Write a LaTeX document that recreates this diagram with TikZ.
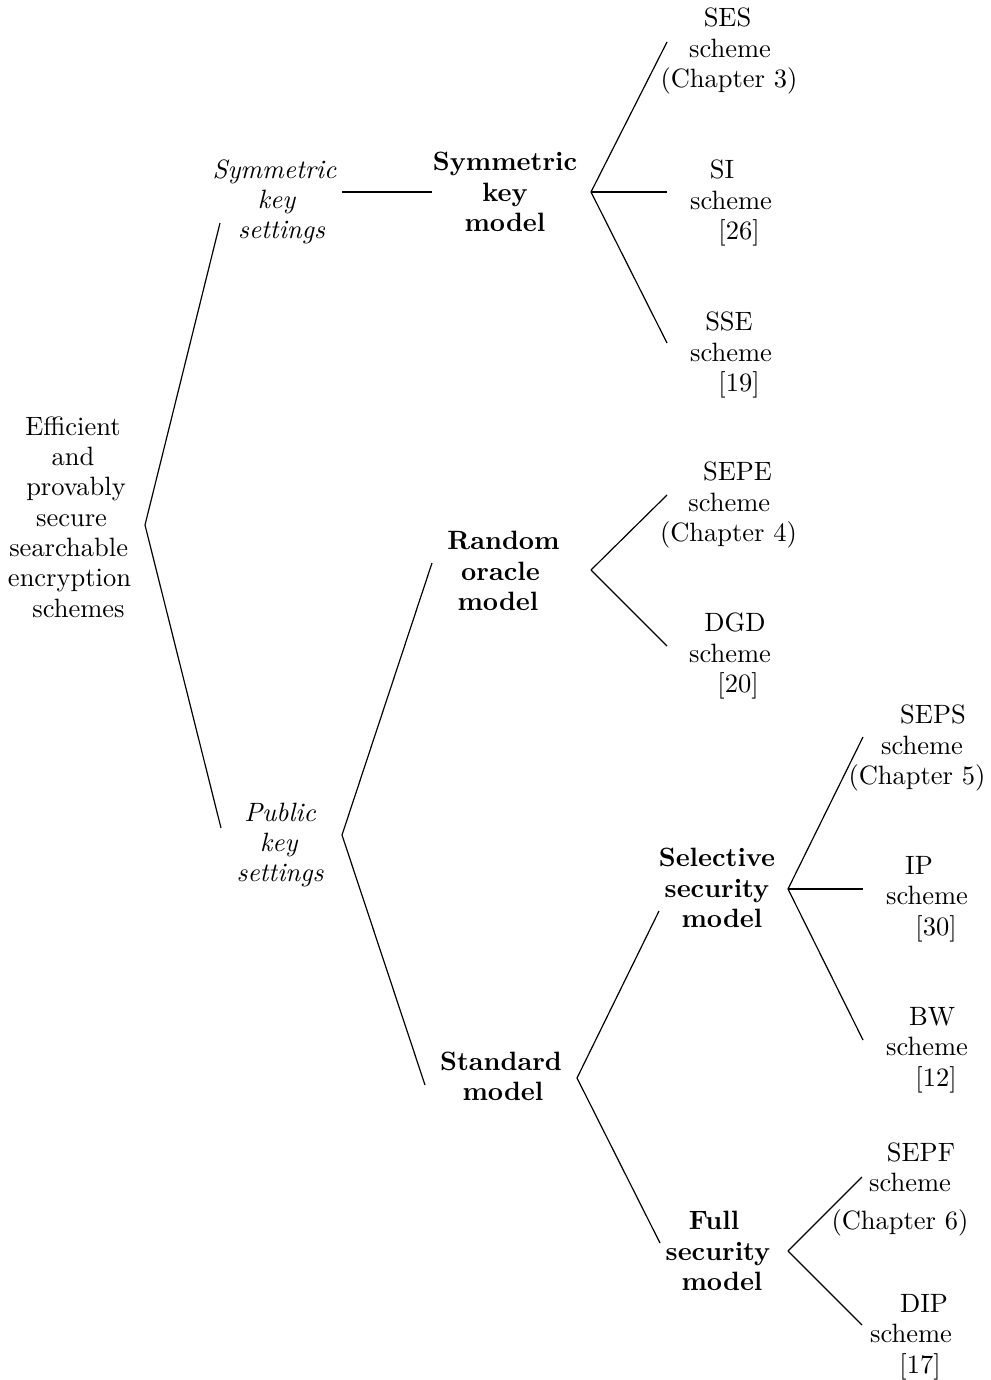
\documentclass[tikz,border=0pt]{standalone}
\newdimen\pxu
\pxu=0.3774pt
% shift one centred line sideways by #1 units without changing its width
\newcommand{\sh}[2]{\hspace*{#1\pxu}#2\hspace*{-#1\pxu}}
\begin{document}
\begin{tikzpicture}[x=\pxu, y=-\pxu,
  base/.style={inner sep=0pt, align=center, font=\fontsize{10pt}{11.43pt}\selectfont},
  setting/.style={base, font=\fontsize{10pt}{11.43pt}\selectfont\itshape},
  model/.style={base, font=\fontsize{10pt}{11.43pt}\selectfont\bfseries},
  scheme/.style={base},
  link/.style={draw, line width=0.45pt}]
\useasboundingbox (0,0) rectangle (990,1380);

% root
\node[base] (root) at (69.5,517) {\sh{3.5}{Efficient}\\ \sh{7}{and}\\ \sh{13}{provably}\\ \sh{4}{secure}\\ \sh{-1.7}{searchable}\\ encryption\\ \sh{9}{schemes}};

% settings
\node[setting] (symset) at (274.5,202) {Symmetric\\ \sh{4}{key}\\ \sh{7}{settings}};
\node[setting] (pubset) at (280,845) {Public\\ \sh{-2.5}{key}\\ settings};

% models
\node[model] (symm) at (505,192) {Symmetric\\ key\\ model};
\node[model] (ro) at (503.5,571) {Random\\ \sh{-6}{oracle}\\ \sh{-5.5}{model}};
\node[model] (std) at (501,1076) {Standard\\ \sh{2}{model}};
\node[model] (sel) at (717,888) {Selective\\ security\\ \sh{5}{model}};
\node[model] (full) at (718,1251) {\sh{-4}{Full}\\ security\\ \sh{4}{model}};

% schemes
\node[scheme] (ses) at (729,51) {\sh{-1.5}{SES}\\ \sh{2}{scheme}\\ (Chapter 3)};
\node[scheme] (si) at (731,203) {\sh{-9}{SI}\\ scheme\\ \sh{8}{[26]}};
\node[scheme] (sse) at (731,355) {\sh{-2}{SSE}\\ scheme\\ \sh{8}{[19]}};
\node[scheme] (sepe) at (728.5,505) {\sh{9}{SEPE}\\ \sh{1.5}{scheme}\\ (Chapter 4)};
\node[scheme] (dgd) at (730,656) {\sh{5}{DGD}\\ scheme\\ \sh{8}{[20]}};
\node[scheme] (seps) at (917,748) {\sh{16}{SEPS}\\ \sh{10}{scheme}\\ (Chapter 5)};
\node[scheme] (ip) at (927,899) {\sh{-8}{IP}\\ scheme\\ \sh{9}{[30]}};
\node[scheme] (bw) at (927,1050) {\sh{5}{BW}\\ scheme\\ \sh{9}{[12]}};
\node[scheme] (sepf) at (900,1189.5) {\sh{21}{SEPF}\\ \sh{20}{scheme}\\[3pt] (Chapter 6)};
\node[scheme] (dip) at (911,1337) {\sh{13}{DIP}\\ scheme\\ \sh{9}{[17]}};

% branches
\draw[link] ([shift={(75.5,8)}]root.center) -- ([shift={(-54.5,21)}]symset.center);
\draw[link] ([shift={(75.5,8)}]root.center) -- ([shift={(-59,-17)}]pubset.center);

\draw[link] ([shift={(67.5,-10)}]symset.center) -- ([shift={(-73,0)}]symm.center);

\draw[link] ([shift={(62,-10)}]pubset.center) -- ([shift={(-71.5,-8)}]ro.center);
\draw[link] ([shift={(62,-10)}]pubset.center) -- ([shift={(-76,9)}]std.center);

\draw[link] ([shift={(86,0)}]symm.center) -- ([shift={(-62,-9)}]ses.center);
\draw[link] ([shift={(86,0)}]symm.center) -- ([shift={(-64,-11)}]si.center);
\draw[link] ([shift={(86,0)}]symm.center) -- ([shift={(-64,-12)}]sse.center);

\draw[link] ([shift={(87.5,-1)}]ro.center) -- ([shift={(-61.5,-10)}]sepe.center);
\draw[link] ([shift={(87.5,-1)}]ro.center) -- ([shift={(-63,-10)}]dgd.center);

\draw[link] ([shift={(76,2)}]std.center) -- ([shift={(-58,23)}]sel.center);
\draw[link] ([shift={(76,2)}]std.center) -- ([shift={(-58,-8)}]full.center);

\draw[link] ([shift={(71,1)}]sel.center) -- ([shift={(-54,-11)}]seps.center);
\draw[link] ([shift={(71,1)}]sel.center) -- ([shift={(-64,-10)}]ip.center);
\draw[link] ([shift={(71,1)}]sel.center) -- ([shift={(-64,-10)}]bw.center);

\draw[link] ([shift={(70,0)}]full.center) -- ([shift={(-38,-12.5)}]sepf.center);
\draw[link] ([shift={(70,0)}]full.center) -- ([shift={(-49,-12)}]dip.center);
\end{tikzpicture}
\end{document}
